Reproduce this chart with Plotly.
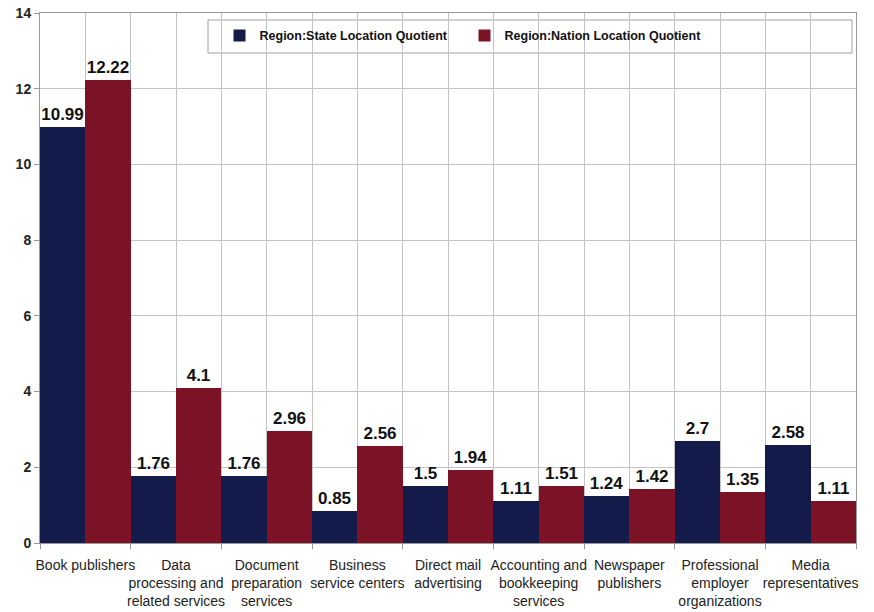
import plotly.graph_objects as go

categories = ["Book publishers", "Data<br>processing and<br>related services",
              "Document<br>preparation<br>services", "Business<br>service centers",
              "Direct mail<br>advertising", "Accounting and<br>bookkeeping<br>services",
              "Newspaper<br>publishers", "Professional<br>employer<br>organizations",
              "Media<br>representatives"]
state_lq = [10.99, 1.76, 1.76, 0.85, 1.5, 1.11, 1.24, 2.7, 2.58]
nation_lq = [12.22, 4.1, 2.96, 2.56, 1.94, 1.51, 1.42, 1.35, 1.11]
series_names = ["Region:State Location Quotient", "Region:Nation Location Quotient"]
y_ticks = [0, 2, 4, 6, 8, 10, 12, 14]

pos = list(range(len(categories)))
font_family = "Liberation Sans, Arial, sans-serif"

fig = go.Figure()
for name, vals, color in [(series_names[0], state_lq, "#121b4a"),
                          (series_names[1], nation_lq, "#7c1226")]:
    fig.add_trace(go.Bar(
        x=pos, y=vals, name=f"<b>{name}</b>", marker=dict(color=color, line=dict(width=0)),
        text=[f"{v:g}" for v in vals], textposition="outside", cliponaxis=False,
        textfont=dict(family=font_family, size=17, color="#111111"),
        texttemplate="<b>%{text}</b>",
    ))

fig.update_layout(
    width=874, height=612,
    margin=dict(l=40, r=18, t=13, b=69, autoexpand=False),
    barmode="group", bargap=0, bargroupgap=0,
    plot_bgcolor="white", paper_bgcolor="white",
    font=dict(family=font_family, color="#222222"),
    showlegend=True,
    legend=dict(orientation="h", x=0.22, xanchor="left", y=0.985, yanchor="top",
                bgcolor="rgba(0,0,0,0)", borderwidth=0, entrywidth=200,
                entrywidthmode="pixels",
                font=dict(family=font_family, size=12.5, color="#111111"),
                traceorder="normal"),
    shapes=[dict(type="rect", xref="paper", yref="paper",
                 x0=(208 - 40) / 816, x1=(852 - 40) / 816,
                 y0=(543 - 53) / 530, y1=(543 - 20) / 530,
                 line=dict(color="#a0a0a0", width=1), fillcolor="white", layer="below")],
)

fig.update_xaxes(
    automargin=False,
    range=[-0.5, len(categories) - 0.5],
    tickmode="array", tickvals=pos, ticktext=categories, tickangle=0,
    ticks="", showgrid=True, gridcolor="#c4c4c4", gridwidth=1,
    minor=dict(tick0=-0.5, dtick=1, showgrid=True, gridcolor="#c4c4c4",
               ticks="outside", ticklen=5, tickcolor="#999999"),
    showline=True, linecolor="#999999", linewidth=1, mirror=True,
    tickfont=dict(family=font_family, size=14, color="#222222"),
    ticklabelstandoff=9, zeroline=False,
)
fig.update_yaxes(
    automargin=False,
    range=[0, 14], tickmode="array", tickvals=y_ticks,
    ticktext=[f"<b>{t}</b>" for t in y_ticks],
    ticks="outside", ticklen=5, tickcolor="#999999",
    showgrid=True, gridcolor="#c4c4c4", gridwidth=1,
    showline=True, linecolor="#999999", linewidth=1, mirror=True,
    tickfont=dict(family=font_family, size=14, color="#222222"),
    zeroline=False, ticklabeloverflow="allow",
)

fig.write_html("out.html", config={"displayModeBar": False},
               post_script="document.body.style.margin='0';document.body.style.overflow='hidden';")
